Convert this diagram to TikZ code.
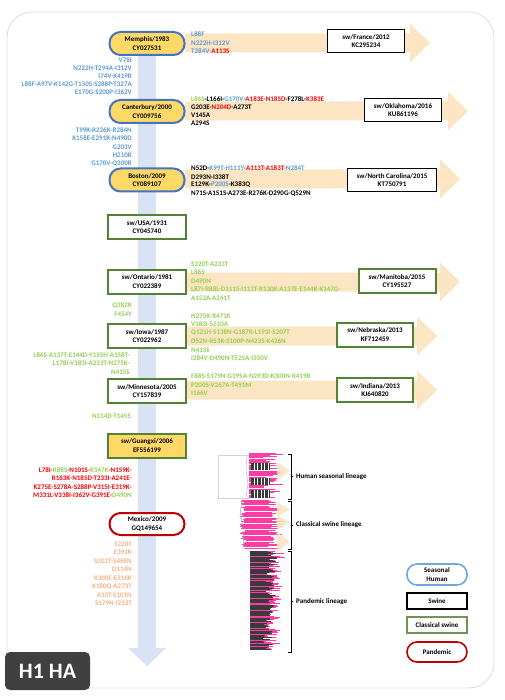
\documentclass[tikz,border=0pt]{standalone}
\usepackage{fontspec}
\setmainfont{Carlito}
\definecolor{cblue}{HTML}{5B9BD5}
\definecolor{cred}{HTML}{FF0000}
\definecolor{cgreen}{HTML}{92D050}
\definecolor{corange}{HTML}{F4B183}
\definecolor{nyellow}{HTML}{FFD966}
\definecolor{nblue}{HTML}{4472C4}
\definecolor{lblue}{HTML}{6FA8DC}
\definecolor{ngreen}{HTML}{548235}
\definecolor{nred}{HTML}{C00000}
\definecolor{vblue}{HTML}{DAE3F3}
\definecolor{tanc}{HTML}{FBE5C2}
\definecolor{cpink}{HTML}{FF3EA5}
\definecolor{dgray}{HTML}{3A3A3A}
\definecolor{hbox}{HTML}{404040}
\definecolor{frame}{HTML}{DDDDDD}
\newcommand{\harr}[4]{\fill[tanc] (#2,#1-9.5) -- (#3,#1-9.5) -- (#3,#1-19.5) -- (#4,#1) -- (#3,#1+19.5) -- (#3,#1+9.5) -- (#2,#1+9.5) -- cycle;}
\begin{document}
\begin{tikzpicture}[x=1pt,y=-1pt,
  font=\fontsize{7}{8.5}\selectfont\bfseries,
  ann/.style={inner sep=0pt},
  lt/.style={ann,anchor=east},
  rt/.style={ann,anchor=west},
  nbase/.style={align=center,minimum height=23pt,inner sep=1pt},
  hum/.style={nbase,draw=nblue,line width=2pt,fill=nyellow,rounded corners=11pt,minimum width=75pt},
  cls/.style={nbase,draw=ngreen,line width=2pt,fill=white,minimum width=78pt,minimum height=24pt},
  swi/.style={nbase,draw=black,line width=1.8pt,fill=white,minimum width=77pt},
  pan/.style={nbase,draw=nred,line width=2pt,fill=white,rounded corners=11pt,minimum width=75pt,minimum height=22pt},
  leg/.style={align=center,inner sep=1pt,minimum width=60pt,fill=white}
]
\useasboundingbox (0,0) rectangle (504,700);
\fill[white] (0,0) rectangle (504,700);
% outer frame
\draw[frame,line width=0.8pt,rounded corners=25pt] (7,12) rectangle (494,688);

% vertical arrow
\fill[vblue] (138,38) -- (156,38) -- (156,648) -- (166,648) -- (147,666) -- (128,648) -- (138,648) -- cycle;

% horizontal arrows
\harr{43}{185}{410}{430}
\harr{111}{185}{448}{468}
\harr{179}{185}{440}{460}
\harr{282}{185}{440}{460}
\harr{336}{185}{417}{437}
\harr{390}{185}{417}{437}

% axis nodes
\node[hum] (mem) at (147,43.5) {Memphis/1983\\CY027531};
\node[hum] (can) at (147,111.5) {Canterbury/2000\\CY009756};
\node[hum] (bos) at (147,180) {Boston/2009\\CY089107};
\node[cls] (usa) at (147,227) {sw/USA/1931\\CY045740};
\node[cls] (ont) at (147,281.5) {sw/Ontario/1981\\CY022389};
\node[cls] (iow) at (147,336) {sw/Iowa/1987\\CY022962};
\node[cls] (min) at (147,391) {sw/Minnesota/2005\\CY157839};
\node[cls,fill=nyellow] (gua) at (147,445.5) {sw/Guangxi/2006\\EF556199};
\node[pan] (mex) at (147,524) {Mexico/2009\\GQ149654};

% right boxes
\node[swi] (fra) at (366,41) {sw/France/2012\\KC295234};
\node[swi] (okl) at (403,110) {sw/Oklahoma/2016\\KU861196};
\node[swi,minimum width=89pt] (nc) at (392,180) {sw/North Carolina/2015\\KT750791};
\node[cls,minimum width=77pt] (man) at (397,281) {sw/Manitoba/2015\\CY195527};
\node[cls,minimum width=76pt] (neb) at (375,334.5) {sw/Nebraska/2013\\KF712459};
\node[cls,minimum width=76pt] (ind) at (375,390) {sw/Indiana/2013\\KJ640820};

% Memphis right
\node[rt,text=cblue] at (191,34) {L88F};
\node[rt,text=cblue] at (191,43) {N222H-I312V};
\node[rt] at (191,51) {\textcolor{cblue}{T284V-}\textcolor{cred}{A113S}};
% left block 1
\node[lt,text=cblue] at (132,60) {V78I};
\node[lt,text=cblue] at (132,68) {N222H-T294A-I312V};
\node[lt,text=cblue] at (132,76) {I74V-K419R};
\node[lt,text=cblue] at (132,84) {L88F-A97V-K142G-T150S-S288P-T327A};
\node[lt,text=cblue] at (132,92) {E170G-S200P-I362V};
% Canterbury right
\node[rt] at (191,99) {\textcolor{cgreen}{L86S}-L166I-\textcolor{cblue}{G170V}\textcolor{cred}{-A183E-N185D}-F278L-\textcolor{cred}{K383E}};
\node[rt] at (191,107) {G203E-\textcolor{cred}{N204D}-A273T};
\node[rt] at (191,115) {V145A};
\node[rt] at (191,123) {A294S};
% left block 2
\node[lt,text=cblue] at (132,130) {T99K-R226K-R284N};
\node[lt,text=cblue] at (132,138.5) {K158E-E291K-N490D};
\node[lt,text=cblue] at (132,147) {G203V};
\node[lt,text=cblue] at (132,155.5) {H210R};
\node[lt,text=cblue] at (132,164) {G170V-Q300R};
% Boston right
\node[rt] at (191,168) {N52D-\textcolor{cblue}{K99T-H111Y}\textcolor{cred}{-A113T-A183T-}\textcolor{cblue}{N284T}};
\node[rt] at (191,177) {D293N-I338T};
\node[rt] at (191,185) {E129K-\textcolor{cblue}{P200S}-K383Q};
\node[rt] at (191,194) {N71S-A151S-A273E-R276K-D290G-Q529N};
% Ontario right
\node[rt,text=cgreen] at (191,264) {S220T-A233T};
\node[rt,text=cgreen] at (191,272.5) {L86S};
\node[rt,text=cgreen] at (191,281) {D490N};
\node[rt,text=cgreen] at (191,289.5) {L87I-R88L-D111S-I113T-R130K-A137E-E144K-K147G-};
\node[rt,text=cgreen] at (191,298) {A152A-A241T};
% left Ontario-Iowa
\node[lt,text=cgreen] at (132,306) {Q382R};
\node[lt,text=cgreen] at (132,314) {F454Y};
% Iowa right
\node[rt,text=cgreen] at (191,316) {N275K-R471K};
\node[rt,text=cgreen] at (191,324.5) {V183I-S510A};
\node[rt,text=cgreen] at (191,333) {Q121H-S138N-G187K-L193I-S207T};
\node[rt,text=cgreen] at (191,341.5) {D52N-R53K-S100P-N423S-K426N};
\node[rt,text=cgreen] at (191,350) {N415S};
\node[rt,text=cgreen] at (191,358.5) {I284V-D490N-T525A-I550V};
% left Iowa-Minnesota
\node[lt,text=cgreen] at (130,355) {L86S-A137T-E144D-Y155H-A158T-};
\node[lt,text=cgreen] at (130,363.5) {L178I-V183I-A233T-N275K-};
\node[lt,text=cgreen] at (130,372) {N415S};
% Minnesota right
\node[rt,text=cgreen] at (191,376.5) {F88S-S179N-G195A-N293D-K300N-K419R};
\node[rt,text=cgreen] at (191,385) {P200S-V267A-T491M};
\node[rt,text=cgreen] at (191,393.5) {I166V};
% left Minnesota-Guangxi
\node[lt,text=cgreen] at (131,416) {N114D-T145S};
% left Guangxi-Mexico
\node[lt] at (132,470) {\textcolor{cred}{L78I-}\textcolor{cgreen}{R88S}\textcolor{cred}{-N101S-}\textcolor{cgreen}{R147K}\textcolor{cred}{-N159K-}};
\node[lt,text=cred] at (132,478.5) {R163K-N185D-T233I-A241E-};
\node[lt,text=cred] at (132,487) {K275E-S278A-S288P-V315I-E319K-};
\node[lt] at (132,495.5) {\textcolor{cred}{M331L-V338I-I362V-G391E-}\textcolor{cgreen}{D490N}};
% below Mexico
\node[lt,text=corange] at (132,544) {S220T};
\node[lt,text=corange] at (132,552.5) {E391K};
\node[lt,text=corange] at (132,561) {S202T-S468N};
\node[lt,text=corange] at (132,569.5) {D114N};
\node[lt,text=corange] at (132,578) {K300E-E516K};
\node[lt,text=corange] at (132,586.5) {K180Q-A273T};
\node[lt,text=corange] at (132,595) {A13T-S101N};
\node[lt,text=corange] at (132,603.5) {S179N-I233T};

% ---- tree picture ----
\pgfmathsetseed{11}
% top (human seasonal)
\foreach \i in {0,...,37}{
  \pgfmathsetmacro\yy{453+\i*1.2}
  \pgfmathsetmacro\ll{262+22*rnd}
  \draw[cpink,line width=0.9pt] (249,\yy) -- (\ll,\yy);
}
\foreach \ya/\yb in {463/470,478/485,490/498}{
  \fill[dgray] (251,\ya) rectangle (270,\yb);
  \foreach \xx in {254,257.5,...,268} \draw[white,line width=0.5pt] (\xx,\ya) -- (\xx,\yb);
}
\fill[white] (218,455) rectangle (249,498);
\draw[gray!35,line width=0.4pt] (249,455) -- (218,455) -- (218,498) -- (249,498);
\draw[lblue!70,line width=0.5pt] (247,456) -- (246,470) -- (248,484) -- (246,497);
% middle (classical swine)
\foreach \i in {0,...,40}{
  \pgfmathsetmacro\yy{500+\i*1.2}
  \pgfmathsetmacro\xs{240+6*rnd}
  \pgfmathsetmacro\ll{268+17*rnd}
  \draw[cpink,line width=0.9pt] (\xs,\yy) -- (\ll,\yy);
}
\draw[teal!60,line width=0.5pt] (242,500) -- (240,515) -- (244,530) -- (243,549);
% bottom (pandemic)
\foreach \i in {0,...,82}{
  \pgfmathsetmacro\yy{551+\i*1.2}
  \pgfmathsetmacro\ll{268+10*rnd-6*\i/82}
  \pgfmathsetmacro\pl{\ll+8*rnd}
  \draw[cpink,line width=0.6pt] (250,\yy) -- (\pl,\yy);
  \draw[dgray,line width=0.7pt] (250,\yy) -- (\ll,\yy);
}
\foreach \yy in {556,566,578,590,603,617,630,643}{
  \draw[cpink,line width=0.6pt] (250,\yy) -- (280,\yy);
}
% faint arrowheads over tree
\foreach \ya/\yb in {462/480,502/517,515/530,532/552}{
  \fill[tanc,opacity=0.85] (277,\ya) -- (290,{(\ya+\yb)/2}) -- (277,\yb) -- cycle;
}

% brackets
\draw[line width=0.6pt] (288,454) -- (291,454) -- (291,499) -- (288,499);
\draw[line width=0.6pt] (291,476.5) -- (293,476.5);
\draw[line width=0.6pt] (288,501) -- (291,501) -- (291,549) -- (288,549);
\draw[line width=0.6pt] (291,525) -- (293,525);
\draw[line width=0.6pt] (288,551) -- (291,551) -- (291,652) -- (288,652);
\draw[line width=0.6pt] (291,601.5) -- (293,601.5);
\node[rt] (lhs) at (296,476.5) {Human seasonal lineage};
\node[rt] (lcs) at (296,525) {Classical swine lineage};
\node[rt] (lpd) at (296,601.5) {Pandemic lineage};

% legend
\node[leg,draw=lblue,line width=1.6pt,rounded corners=10pt,minimum height=21pt] (lg1) at (437,574.5) {Seasonal\\Human};
\node[leg,draw=black,line width=1.6pt,minimum height=16pt] (lg2) at (437,601) {Swine};
\node[leg,draw=ngreen!85,line width=1.6pt,minimum height=16pt] (lg3) at (437,625) {Classical swine};
\node[leg,draw=nred,line width=1.6pt,rounded corners=10pt,minimum height=20pt] (lg4) at (437,652) {Pandemic};

% H1 HA label
\node[fill=hbox,rounded corners=5pt,minimum width=85pt,minimum height=38pt,text=white,font=\fontsize{22}{24}\selectfont\bfseries] (h1) at (47.5,671) {H1 HA};
\end{tikzpicture}
\end{document}
